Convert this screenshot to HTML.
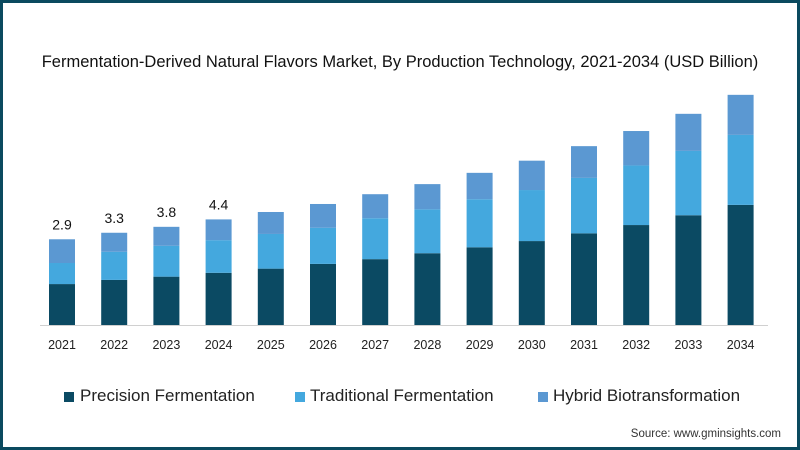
<!DOCTYPE html>
<html><head><meta charset="utf-8"><style>
html,body{margin:0;padding:0;background:#fff;}
#wrap{position:relative;width:800px;height:450px;box-sizing:border-box;border:3px solid #0b4a5f;background:#fff;overflow:hidden;font-family:"Liberation Sans",sans-serif;}
#title{position:absolute;left:0;width:794px;top:50px;text-align:center;font-size:16.5px;color:#111;}
.leg{position:absolute;top:383px;font-size:17px;color:#222;white-space:nowrap;}
.sq{position:absolute;top:389px;width:10px;height:10px;}
#src{position:absolute;right:16px;top:425px;font-size:11.5px;color:#333;}
</style></head><body>
<div id="wrap">
<div id="title">Fermentation-Derived Natural Flavors Market, By Production Technology, 2021-2034 (USD Billion)</div>
<svg id="chart" width="794" height="444" style="position:absolute;left:0;top:0"></svg>
<div class="sq" style="left:61px;background:#0b4a63"></div>
<div class="leg" style="left:77px">Precision Fermentation</div>
<div class="sq" style="left:292px;background:#44a8de"></div>
<div class="leg" style="left:307px">Traditional Fermentation</div>
<div class="sq" style="left:535px;background:#5b98d2"></div>
<div class="leg" style="left:550px">Hybrid Biotransformation</div>
<div id="src">Source: www.gminsights.com</div>
</div>
<script>
const years = ["2021","2022","2023","2024","2025","2026","2027","2028","2029","2030","2031","2032","2033","2034"];
const precision = [1.38,1.52,1.63,1.76,1.90,2.06,2.22,2.42,2.62,2.83,3.09,3.37,3.70,4.05];
const traditional = [0.71,0.95,1.04,1.10,1.17,1.22,1.38,1.48,1.62,1.72,1.87,2.01,2.17,2.36];
const hybrid = [0.80,0.64,0.64,0.70,0.74,0.80,0.81,0.85,0.89,0.99,1.07,1.16,1.25,1.35];
const totalLabels = ["2.9","3.3","3.8","4.4","","","","","","","","","",""];
const ns="http://www.w3.org/2000/svg";
const svg=document.getElementById('chart');
const baseY=322, pxPerUnit=29.66, x0=46, step=52.2, bw=26;
function y(v){return baseY - v*pxPerUnit;}
function x(i){return x0 + i*step;}
const axis=document.createElementNS(ns,'line');
axis.setAttribute('x1',37);axis.setAttribute('x2',765);axis.setAttribute('y1',baseY+0.5);axis.setAttribute('y2',baseY+0.5);
axis.setAttribute('stroke','#d0d0d0');axis.setAttribute('stroke-width','1');


svg.appendChild(axis);
const series=[[precision,'#0b4a63','precision'],[traditional,'#44a8de','traditional'],[hybrid,'#5b98d2','hybrid']];
years.forEach((yr,i)=>{
  let cum=0;
  series.forEach(s=>{
    const v=s[0][i];
    const r=document.createElementNS(ns,'rect');
    r.setAttribute('x',x(i));r.setAttribute('width',bw);
    r.setAttribute('y',y(cum+v));r.setAttribute('height',v*pxPerUnit);
    r.setAttribute('fill',s[1]);
    
    
    svg.appendChild(r);
    cum+=v;
  });
  const t=document.createElementNS(ns,'text');
  t.setAttribute('x',x(i)+bw/2);t.setAttribute('y',baseY+24);
  t.setAttribute('text-anchor','middle');t.setAttribute('font-size','12.5');t.setAttribute('fill','#222');
  t.setAttribute('font-family','Liberation Sans, sans-serif');
  t.textContent=yr;
  
  
  svg.appendChild(t);
  if(totalLabels[i]){
    const l=document.createElementNS(ns,'text');
    l.setAttribute('x',x(i)+bw/2);l.setAttribute('y',y(cum)-10);
    l.setAttribute('text-anchor','middle');l.setAttribute('font-size','14');l.setAttribute('fill','#111');
    l.setAttribute('font-family','Liberation Sans, sans-serif');
    l.textContent=totalLabels[i];
    
    
    svg.appendChild(l);
  }
});
</script>
</body></html>
